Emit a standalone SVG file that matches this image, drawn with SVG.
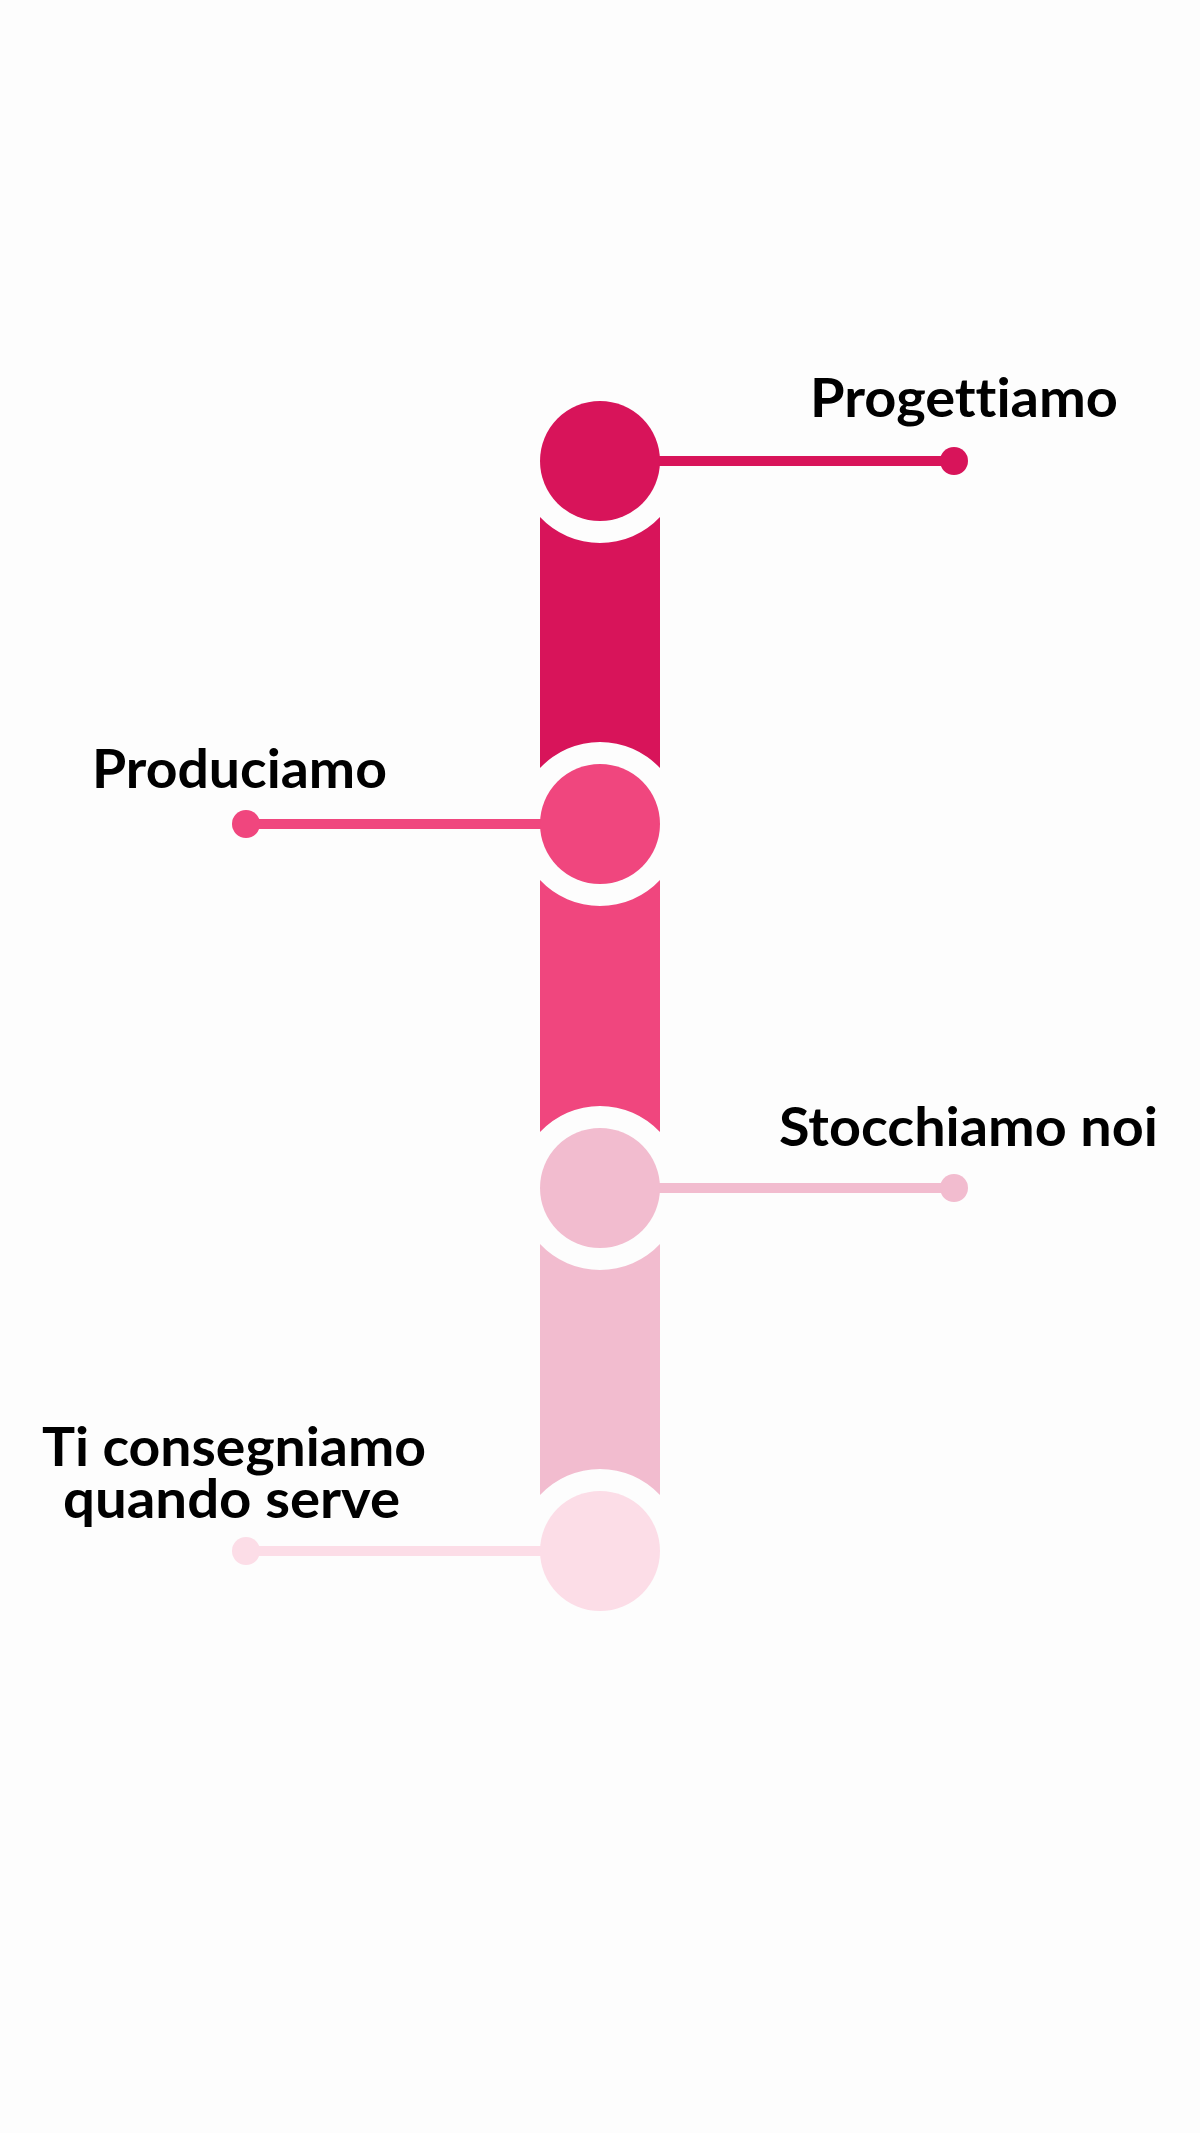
<svg xmlns="http://www.w3.org/2000/svg" width="1200" height="2133" viewBox="0 0 1200 2133">
  <style>
    .lbl { font-family: Lato, "Liberation Sans", sans-serif; font-weight: 700; font-size: 54px; fill: #000000; font-variant-ligatures: none; font-feature-settings: "liga" 0, "clig" 0; }
    .c1 { fill: #D8145A; } .s1 { stroke: #D8145A; }
    .c2 { fill: #F0467E; } .s2 { stroke: #F0467E; }
    .c3 { fill: #F2BCCF; } .s3 { stroke: #F2BCCF; }
    .c4 { fill: #FCDDE7; } .s4 { stroke: #FCDDE7; }
    .conn { stroke-width: 10; fill: none; }
  </style>
  <rect x="0" y="0" width="1200" height="2133" fill="#FDFDFD"/>

  <g id="connectors">
    <line class="conn s1" x1="600" y1="461" x2="954" y2="461"/>
    <circle class="c1" cx="954" cy="461" r="14"/>
    <line class="conn s2" x1="246" y1="824" x2="600" y2="824"/>
    <circle class="c2" cx="246" cy="824" r="14"/>
    <line class="conn s3" x1="600" y1="1188" x2="954" y2="1188"/>
    <circle class="c3" cx="954" cy="1188" r="14"/>
    <line class="conn s4" x1="246" y1="1551" x2="600" y2="1551"/>
    <circle class="c4" cx="246" cy="1551" r="14"/>
  </g>

  <g id="bars">
    <path class="c1" d="M540,516.9 A82,82 0 0 0 660,516.9 L660,768.1 A82,82 0 0 0 540,768.1 Z"/>
    <path class="c2" d="M540,879.9 A82,82 0 0 0 660,879.9 L660,1132.1 A82,82 0 0 0 540,1132.1 Z"/>
    <path class="c3" d="M540,1243.9 A82,82 0 0 0 660,1243.9 L660,1495.1 A82,82 0 0 0 540,1495.1 Z"/>
  </g>

  <g id="node-progettiamo">
    <circle class="c1" cx="600" cy="461" r="60"/>
    <text class="lbl" x="810" y="417" textLength="308" lengthAdjust="spacingAndGlyphs">Progettiamo</text>
  </g>

  <g id="node-produciamo">
    <circle class="c2" cx="600" cy="824" r="60"/>
    <text class="lbl" x="92" y="788" textLength="295" lengthAdjust="spacingAndGlyphs">Produciamo</text>
  </g>

  <g id="node-stocchiamo">
    <circle class="c3" cx="600" cy="1188" r="60"/>
    <text class="lbl" x="779" y="1146" textLength="379" lengthAdjust="spacingAndGlyphs">Stocchiamo noi</text>
  </g>

  <g id="node-consegniamo">
    <circle class="c4" cx="600" cy="1551" r="60"/>
    <text class="lbl" x="42" y="1466" font-size="52" textLength="384" lengthAdjust="spacingAndGlyphs">Ti consegniamo</text>
    <text class="lbl" x="63" y="1518" font-size="52" textLength="337" lengthAdjust="spacingAndGlyphs">quando serve</text>
  </g>
</svg>
